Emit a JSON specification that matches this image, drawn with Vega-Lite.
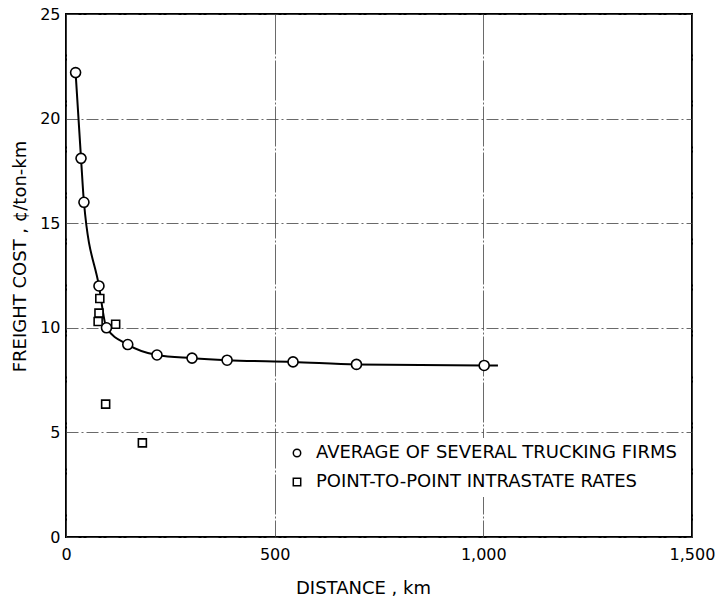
{
  "$schema": "https://vega.github.io/schema/vega-lite/v6.json",
  "autosize": {"type": "none"},
  "padding": {"left": 66, "top": 14, "right": 31, "bottom": 66},
  "width": 626,
  "height": 523,
  "background": "white",
  "config": {
    "font": "DejaVu Sans",
    "view": {"stroke": "black", "strokeWidth": 2},
    "axis": {
      "domain": false,
      "ticks": false,
      "labelFlush": false,
      "labelFont": "DejaVu Sans",
      "labelFontSize": 16,
      "labelColor": "black",
      "titleFont": "DejaVu Sans",
      "titleFontSize": 18,
      "titleFontWeight": "normal",
      "titleColor": "black",
      "gridColor": "#444",
      "gridWidth": 0.8
    }
  },
  "datasets": {
    "firms": [
      {"km": 23, "cost": 22.2, "series": "AVERAGE OF SEVERAL TRUCKING FIRMS"},
      {"km": 36, "cost": 18.1, "series": "AVERAGE OF SEVERAL TRUCKING FIRMS"},
      {"km": 43, "cost": 16.0, "series": "AVERAGE OF SEVERAL TRUCKING FIRMS"},
      {"km": 79, "cost": 12.0, "series": "AVERAGE OF SEVERAL TRUCKING FIRMS"},
      {"km": 97, "cost": 10.0, "series": "AVERAGE OF SEVERAL TRUCKING FIRMS"},
      {"km": 148, "cost": 9.2, "series": "AVERAGE OF SEVERAL TRUCKING FIRMS"},
      {"km": 218, "cost": 8.7, "series": "AVERAGE OF SEVERAL TRUCKING FIRMS"},
      {"km": 302, "cost": 8.55, "series": "AVERAGE OF SEVERAL TRUCKING FIRMS"},
      {"km": 386, "cost": 8.45, "series": "AVERAGE OF SEVERAL TRUCKING FIRMS"},
      {"km": 544, "cost": 8.37, "series": "AVERAGE OF SEVERAL TRUCKING FIRMS"},
      {"km": 696, "cost": 8.25, "series": "AVERAGE OF SEVERAL TRUCKING FIRMS"},
      {"km": 1002, "cost": 8.2, "series": "AVERAGE OF SEVERAL TRUCKING FIRMS"}
    ],
    "rates": [
      {"km": 81, "cost": 11.4, "series": "POINT-TO-POINT INTRASTATE RATES"},
      {"km": 79, "cost": 10.7, "series": "POINT-TO-POINT INTRASTATE RATES"},
      {"km": 77, "cost": 10.3, "series": "POINT-TO-POINT INTRASTATE RATES"},
      {"km": 119, "cost": 10.17, "series": "POINT-TO-POINT INTRASTATE RATES"},
      {"km": 95, "cost": 6.35, "series": "POINT-TO-POINT INTRASTATE RATES"},
      {"km": 183, "cost": 4.5, "series": "POINT-TO-POINT INTRASTATE RATES"}
    ],
    "curve": [
      {"km": 23, "cost": 22.2},
      {"km": 36, "cost": 18.1},
      {"km": 43, "cost": 16.0},
      {"km": 79, "cost": 12.0},
      {"km": 97, "cost": 10.0},
      {"km": 148, "cost": 9.2},
      {"km": 218, "cost": 8.7},
      {"km": 302, "cost": 8.55},
      {"km": 386, "cost": 8.45},
      {"km": 544, "cost": 8.37},
      {"km": 696, "cost": 8.25},
      {"km": 1002, "cost": 8.2},
      {"km": 1035, "cost": 8.2}
    ]
  },
  "layer": [
    {
      "data": {"name": "curve"},
      "mark": {"type": "line", "color": "black", "strokeWidth": 2, "interpolate": "monotone"},
      "encoding": {
        "x": {
          "field": "km", "type": "quantitative",
          "scale": {"domain": [0, 1500], "nice": false},
          "axis": {
            "values": [0, 500, 1000, 1500],
            "format": ",d",
            "labelPadding": 9,
            "title": "DISTANCE , km",
            "titlePadding": 17,
            "titleX": 297,
            "gridDash": [40, 2, 2, 2]
          }
        },
        "y": {
          "field": "cost", "type": "quantitative",
          "scale": {"domain": [0, 25], "nice": false},
          "axis": {
            "values": [0, 5, 10, 15, 20, 25],
            "labelPadding": 6,
            "title": "FREIGHT COST , ¢/ton-km",
            "titleX": -37,
            "titleY": 242,
            "gridDash": [12, 3, 2, 3]
          }
        }
      }
    },
    {
      "data": {"name": "rates"},
      "mark": {"type": "point", "shape": "square", "size": 64, "filled": true, "fill": "white", "stroke": "black", "strokeWidth": 1.6, "opacity": 1},
      "encoding": {
        "x": {"field": "km", "type": "quantitative"},
        "y": {"field": "cost", "type": "quantitative"},
        "shape": {
          "field": "series", "type": "nominal",
          "scale": {
            "domain": ["AVERAGE OF SEVERAL TRUCKING FIRMS", "POINT-TO-POINT INTRASTATE RATES"],
            "range": ["circle", "square"]
          },
          "legend": {
            "title": null,
            "orient": "none",
            "legendX": 216,
            "legendY": 424,
            "padding": 6,
            "fillColor": "white",
            "rowPadding": 11,
            "labelFontSize": 18,
            "labelFont": "DejaVu Sans",
            "labelColor": "black",
            "labelLimit": 0,
            "labelOffset": 10,
            "symbolSize": 55,
            "encode": {
              "symbols": {
                "update": {
                  "fill": {"value": "white"},
                  "stroke": {"value": "black"},
                  "strokeWidth": {"value": 1.4},
                  "opacity": {"value": 1}
                }
              }
            }
          }
        }
      }
    },
    {
      "data": {"name": "firms"},
      "mark": {"type": "point", "shape": "circle", "size": 100, "filled": true, "fill": "white", "stroke": "black", "strokeWidth": 1.6, "opacity": 1},
      "encoding": {
        "x": {"field": "km", "type": "quantitative"},
        "y": {"field": "cost", "type": "quantitative"},
        "shape": {"field": "series", "type": "nominal"}
      }
    }
  ]
}
